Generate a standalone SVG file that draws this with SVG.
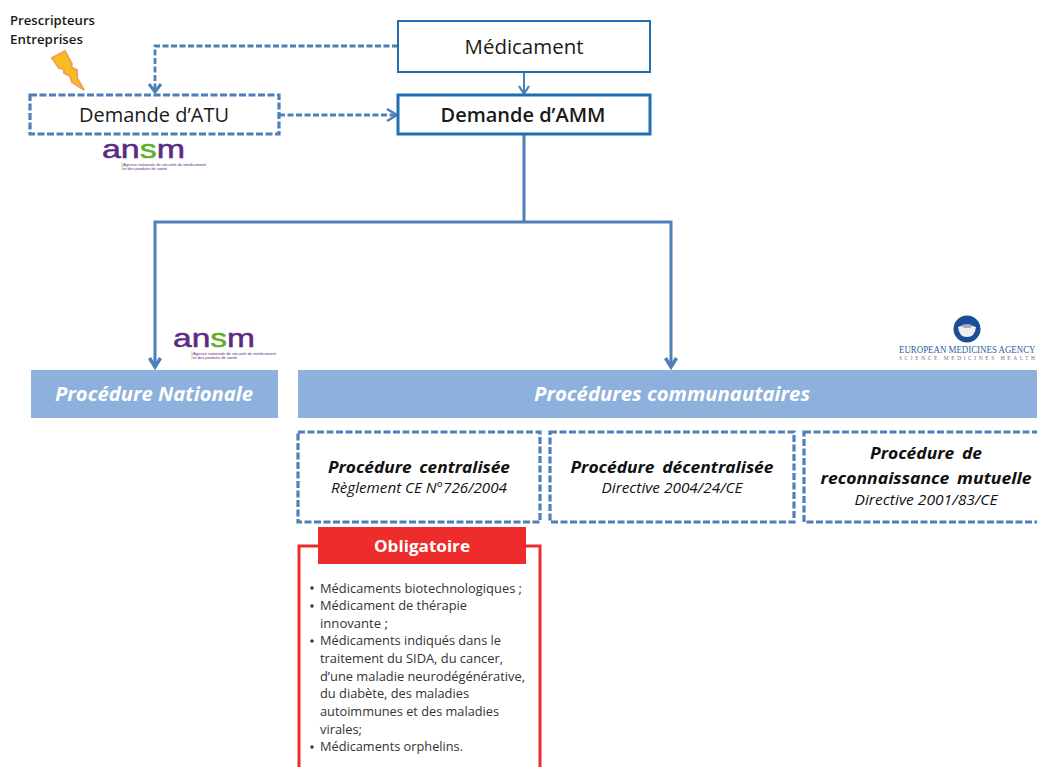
<svg xmlns="http://www.w3.org/2000/svg" width="1037" height="767" viewBox="0 0 1037 767">
<style>
text{font-family:"Open Sans","Noto Sans","DejaVu Sans",sans-serif;}
.blk{fill:#1a1a1a}
.ctr{text-anchor:middle}
.box{fill:#fff;stroke:#1f6fb2}
.dash{fill:#fff;stroke:#4f7fb8;stroke-width:3.2;stroke-dasharray:7 2.5}
.banner{fill:#8eb0dc}
.bt{fill:#fff;font-weight:700;font-style:italic;font-size:20px;text-anchor:middle}
.pt{fill:#111;font-weight:700;font-style:italic;font-size:16.5px;text-anchor:middle;word-spacing:3px}
.ps{fill:#111;font-style:italic;font-size:14px;text-anchor:middle}
.li{fill:#333;font-size:13.5px}
.c{fill:none;stroke:#4f7fb8;stroke-width:3}
.cd{fill:none;stroke:#4f7fb8;stroke-width:2.8;stroke-dasharray:6 2.5}
.ah{fill:none;stroke:#4f7fb8;stroke-width:3}
.purple{fill:#5b2a86;font-family:"Liberation Sans",sans-serif;stroke:#5b2a86;stroke-width:.5}
.sub{fill:#5b2a86;font-size:3.4px;font-family:"Liberation Sans",sans-serif}
.serif{font-family:"Liberation Serif",serif}
</style>
<g id="connectors">
<path class="cd" d="M398 46H155V92"/>
<path class="ah" d="M149 84L155 92L161 84"/>
<path class="cd" d="M279 115H396"/>
<path class="ah" d="M387 109L397 115L387 121" style="stroke-width:2.5"/>
<path class="c" d="M524 72V95" style="stroke-width:2"/>
<path class="ah" d="M519 86L524 94L529 86" style="stroke-width:2.2"/>
<path class="c" d="M524 135V222"/>
<path class="c" d="M155 366V222H671V366"/>
<path class="ah" d="M149.500 358L155 367L160.500 358" style="stroke-width:3.5"/>
<path class="ah" d="M665.500 358L671 367L676.500 358" style="stroke-width:3.500"/>
</g>
<g id="prescripteurs">
<text x="10" y="25" class="blk" font-size="12.5" font-weight="600" textLength="85" lengthAdjust="spacingAndGlyphs">Prescripteurs</text>
<text x="10" y="44" class="blk" font-size="12.5" font-weight="600" textLength="73" lengthAdjust="spacingAndGlyphs">Entreprises</text>
<path d="M52 58L65 51L72 64L71 67L77 70L77 78L84 90L72 82L70 76L64 73L64 69L59 68Z" fill="#f5bd20" stroke="#f4a04f" stroke-width="2"/>
</g>
<g id="medicament">
<rect class="box" x="398" y="21" width="252" height="51" stroke-width="2"/>
<text x="524" y="54" class="blk ctr" font-size="20" textLength="119" lengthAdjust="spacingAndGlyphs">Médicament</text>
</g>
<g id="demande-atu">
<rect class="dash" x="30" y="95" width="249" height="39"/>
<text x="154" y="122" class="blk ctr" font-size="20" font-weight="500" textLength="150" lengthAdjust="spacingAndGlyphs">Demande d’ATU</text>
</g>
<g id="demande-amm">
<rect class="box" x="398" y="95" width="252" height="39" stroke-width="3"/>
<text x="523" y="122" class="blk ctr" font-size="20" font-weight="600" textLength="165" lengthAdjust="spacingAndGlyphs">Demande d’AMM</text>
</g>
<g id="ansm-top">
<text x="102" y="157.500" class="purple" font-size="25" textLength="83" lengthAdjust="spacingAndGlyphs">an<tspan fill="#5fae2e" stroke="#5fae2e">s</tspan>m</text>
<path d="M122 162V170" stroke="#c9d84a" stroke-width="1"/>
<text x="123" y="166" class="sub" textLength="83" lengthAdjust="spacingAndGlyphs">Agence nationale de sécurité du médicament</text>
<text x="123" y="170" class="sub" textLength="44" lengthAdjust="spacingAndGlyphs">et des produits de santé</text>
</g>
<g id="ansm-national">
<text x="173" y="346.500" class="purple" font-size="25" textLength="82" lengthAdjust="spacingAndGlyphs">an<tspan fill="#5fae2e" stroke="#5fae2e">s</tspan>m</text>
<path d="M192 351V359" stroke="#c9d84a" stroke-width="1"/>
<text x="193" y="355" class="sub" textLength="83" lengthAdjust="spacingAndGlyphs">Agence nationale de sécurité du médicament</text>
<text x="193" y="359" class="sub" textLength="44" lengthAdjust="spacingAndGlyphs">et des produits de santé</text>
</g>
<g id="ema">
<circle cx="967" cy="329" r="13.500" fill="#1c4d99"/>
<path d="M958 327Q967 323 976 327Q975 337 967 337Q959 337 958 327Z" fill="#eee"/>
<ellipse cx="967" cy="326" rx="5" ry="2" fill="#aab"/>
<text transform="translate(899 353) scale(.845 1)" class="serif" font-size="10.500" fill="#2f5f9e">EUROPEAN MEDICINES AGENCY</text>
<text x="899" y="360" class="serif" font-size="5.500" fill="#777" textLength="136">SCIENCE MEDICINES HEALTH</text>
</g>
<g id="procedure-nationale">
<rect class="banner" x="31" y="370" width="247" height="48"/>
<text x="154" y="401" class="bt" textLength="198" lengthAdjust="spacingAndGlyphs">Procédure Nationale</text>
</g>
<g id="procedures-communautaires">
<rect class="banner" x="298" y="370" width="739" height="48"/>
<text x="672" y="401" class="bt" textLength="276" lengthAdjust="spacingAndGlyphs">Procédures communautaires</text>
</g>
<g id="centralisee">
<rect class="dash" x="298" y="432" width="242" height="90"/>
<text x="419" y="473" class="pt" textLength="182" lengthAdjust="spacingAndGlyphs">Procédure centralisée</text>
<text x="419" y="493" class="ps" textLength="176" lengthAdjust="spacingAndGlyphs">Règlement CE N°726/2004</text>
</g>
<g id="decentralisee">
<rect class="dash" x="550" y="432" width="244" height="90"/>
<text x="672" y="473" class="pt" textLength="203" lengthAdjust="spacingAndGlyphs">Procédure décentralisée</text>
<text x="672" y="493" class="ps" textLength="141" lengthAdjust="spacingAndGlyphs">Directive 2004/24/CE</text>
</g>
<g id="mutuelle">
<rect class="dash" x="804" y="432" width="240" height="90"/>
<text x="926" y="459" class="pt" textLength="112" lengthAdjust="spacingAndGlyphs">Procédure de</text>
<text x="926" y="484" class="pt" textLength="211" lengthAdjust="spacingAndGlyphs">reconnaissance mutuelle</text>
<text x="926" y="505" class="ps" textLength="143" lengthAdjust="spacingAndGlyphs">Directive 2001/83/CE</text>
</g>
<g id="obligatoire">
<path d="M299 767V546H540V767" fill="none" stroke="#ee2c2c" stroke-width="3"/>
<rect x="318" y="527" width="208" height="37" fill="#ee2c2c"/>
<text x="422" y="552" fill="#fff" class="ctr" font-size="16" font-weight="700" textLength="96" lengthAdjust="spacingAndGlyphs">Obligatoire</text>
<g class="li">
<circle cx="312" cy="588" r="1.700" fill="#333"/>
<text x="320" y="593" textLength="202" lengthAdjust="spacingAndGlyphs">Médicaments biotechnologiques ;</text>
<circle cx="312" cy="606" r="1.700" fill="#333"/>
<text x="320" y="610" textLength="147" lengthAdjust="spacingAndGlyphs">Médicament de thérapie</text>
<text x="320" y="628" textLength="68" lengthAdjust="spacingAndGlyphs">innovante ;</text>
<circle cx="312" cy="641" r="1.700" fill="#333"/>
<text x="320" y="645" textLength="181" lengthAdjust="spacingAndGlyphs">Médicaments indiqués dans le</text>
<text x="320" y="663" textLength="183" lengthAdjust="spacingAndGlyphs">traitement du SIDA, du cancer,</text>
<text x="320" y="681" textLength="205" lengthAdjust="spacingAndGlyphs">d’une maladie neurodégénérative,</text>
<text x="320" y="698" textLength="149" lengthAdjust="spacingAndGlyphs">du diabète, des maladies</text>
<text x="320" y="716" textLength="179" lengthAdjust="spacingAndGlyphs">autoimmunes et des maladies</text>
<text x="320" y="734" textLength="42" lengthAdjust="spacingAndGlyphs">virales;</text>
<circle cx="312" cy="747" r="1.700" fill="#333"/>
<text x="320" y="751" textLength="143" lengthAdjust="spacingAndGlyphs">Médicaments orphelins.</text>
</g>
</g>
</svg>
